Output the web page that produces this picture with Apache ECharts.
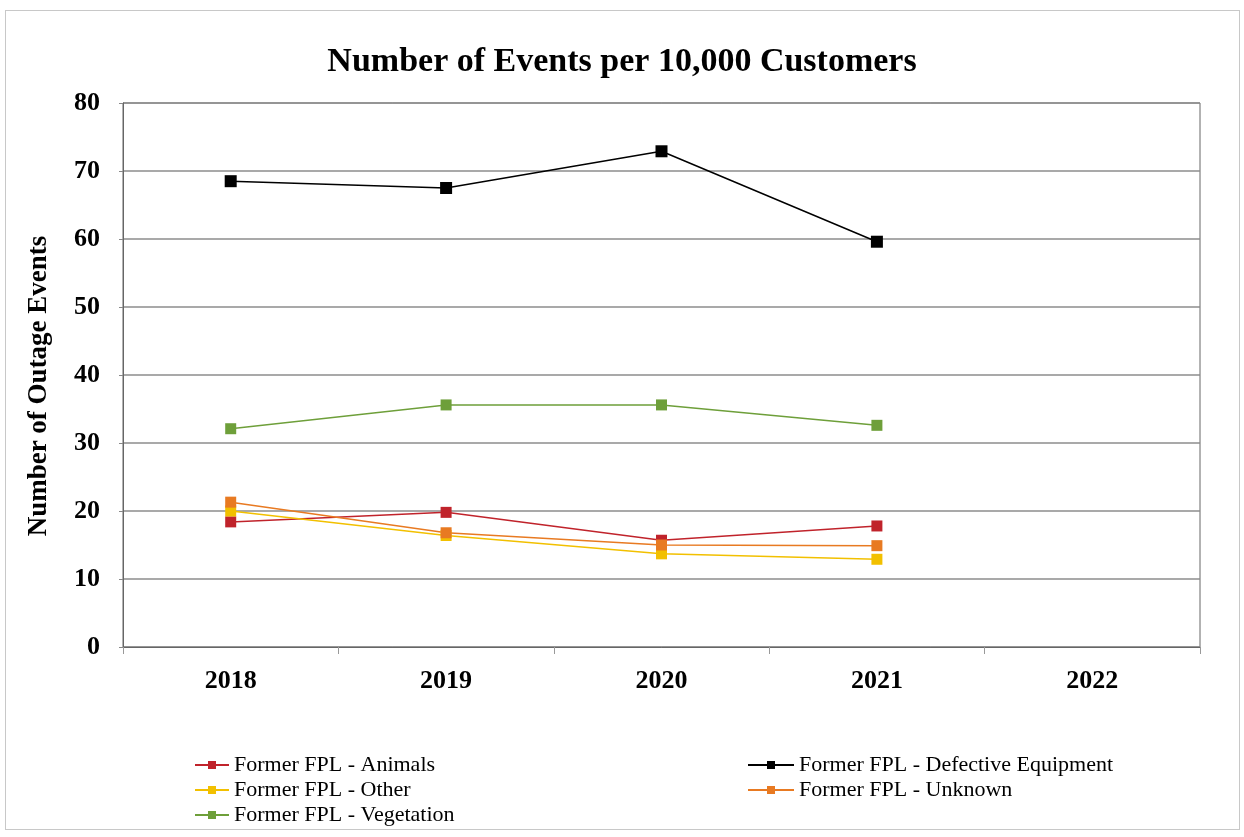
<!DOCTYPE html>
<html>
<head>
<meta charset="utf-8">
<script src="https://cdn.jsdelivr.net/npm/echarts@6/dist/echarts.min.js"></script>
<style>
  html, body { margin: 0; padding: 0; background: #fff; }
  #frame { position: absolute; left: 5px; top: 10px; width: 1233px; height: 818px; border: 1px solid #c8c8c8; }
  #chart { width: 1244px; height: 837px; }
</style>
</head>
<body>
<div id="frame"></div>
<div id="chart"></div>
<script>
// categories and values
const years = ['2018', '2019', '2020', '2021', '2022'];
const animals = [18.4, 19.8, 15.7, 17.8, null];
const defective = [68.5, 67.5, 72.9, 59.6, null];
const other = [20.0, 16.4, 13.7, 12.9, null];
const unknown = [21.3, 16.8, 15.0, 14.9, null];
const vegetation = [32.1, 35.6, 35.6, 32.6, null];

const serif = '"Liberation Serif", "DejaVu Serif", serif';

function mkLine(name, data, color, size) {
  return {
    name: name,
    type: 'line',
    data: data,
    symbol: 'rect',
    symbolSize: size,
    lineStyle: { color: color, width: 1.5 },
    itemStyle: { color: color },
    connectNulls: false,
    animation: false
  };
}

const legendText = { fontFamily: serif, fontSize: 22, lineHeight: 20, color: '#000' };

const chart = echarts.init(document.getElementById('chart'));
chart.setOption({
  backgroundColor: 'transparent',
  title: {
    text: 'Number of Events per 10,000 Customers',
    left: 'center',
    top: 40,
    textStyle: { fontFamily: serif, fontSize: 34, fontWeight: 'bold', color: '#000' }
  },
  grid: {
    left: 123, right: 44, top: 103, bottom: 190,
    show: true, borderColor: '#666', borderWidth: 1
  },
  legend: [
    {
      orient: 'vertical',
      left: 194, top: 754, height: 110, padding: 0,
      itemWidth: 34, itemHeight: 10, itemGap: 3,
      data: ['Former FPL - Animals', 'Former FPL - Other', 'Former FPL - Vegetation'],
      textStyle: legendText
    },
    {
      orient: 'vertical',
      left: 747, top: 754, height: 110, padding: 0,
      itemWidth: 46, itemHeight: 10, itemGap: 3,
      data: ['Former FPL - Defective Equipment', 'Former FPL - Unknown'],
      textStyle: legendText
    }
  ],
  xAxis: {
    type: 'category',
    data: years,
    boundaryGap: true,
    axisLine: { lineStyle: { color: '#666', width: 1 } },
    axisTick: { show: true, length: 7, lineStyle: { color: '#999' } },
    axisLabel: { margin: 21, fontFamily: serif, fontSize: 26, fontWeight: 'bold', color: '#000' }
  },
  yAxis: {
    type: 'value',
    min: 0, max: 80, interval: 10,
    name: 'Number of Outage Events',
    nameLocation: 'middle',
    nameGap: 70,
    nameTextStyle: { fontFamily: serif, fontSize: 27, fontWeight: 'bold', color: '#000', padding: [0, 22, 0, 0] },
    axisLine: { show: true, lineStyle: { color: '#666' } },
    axisTick: { show: true, length: 4, lineStyle: { color: '#888' } },
    splitLine: { lineStyle: { color: '#8c8c8c', width: 1.5 } },
    axisLabel: { margin: 23, fontFamily: serif, fontSize: 26, fontWeight: 'bold', color: '#000' }
  },
  series: [
    mkLine('Former FPL - Animals', animals, '#c0232b', 11),
    mkLine('Former FPL - Defective Equipment', defective, '#000000', 12),
    mkLine('Former FPL - Other', other, '#f2c000', 11),
    mkLine('Former FPL - Unknown', unknown, '#e87a22', 11),
    mkLine('Former FPL - Vegetation', vegetation, '#6e9f3a', 11)
  ]
});
</script>
</body>
</html>
